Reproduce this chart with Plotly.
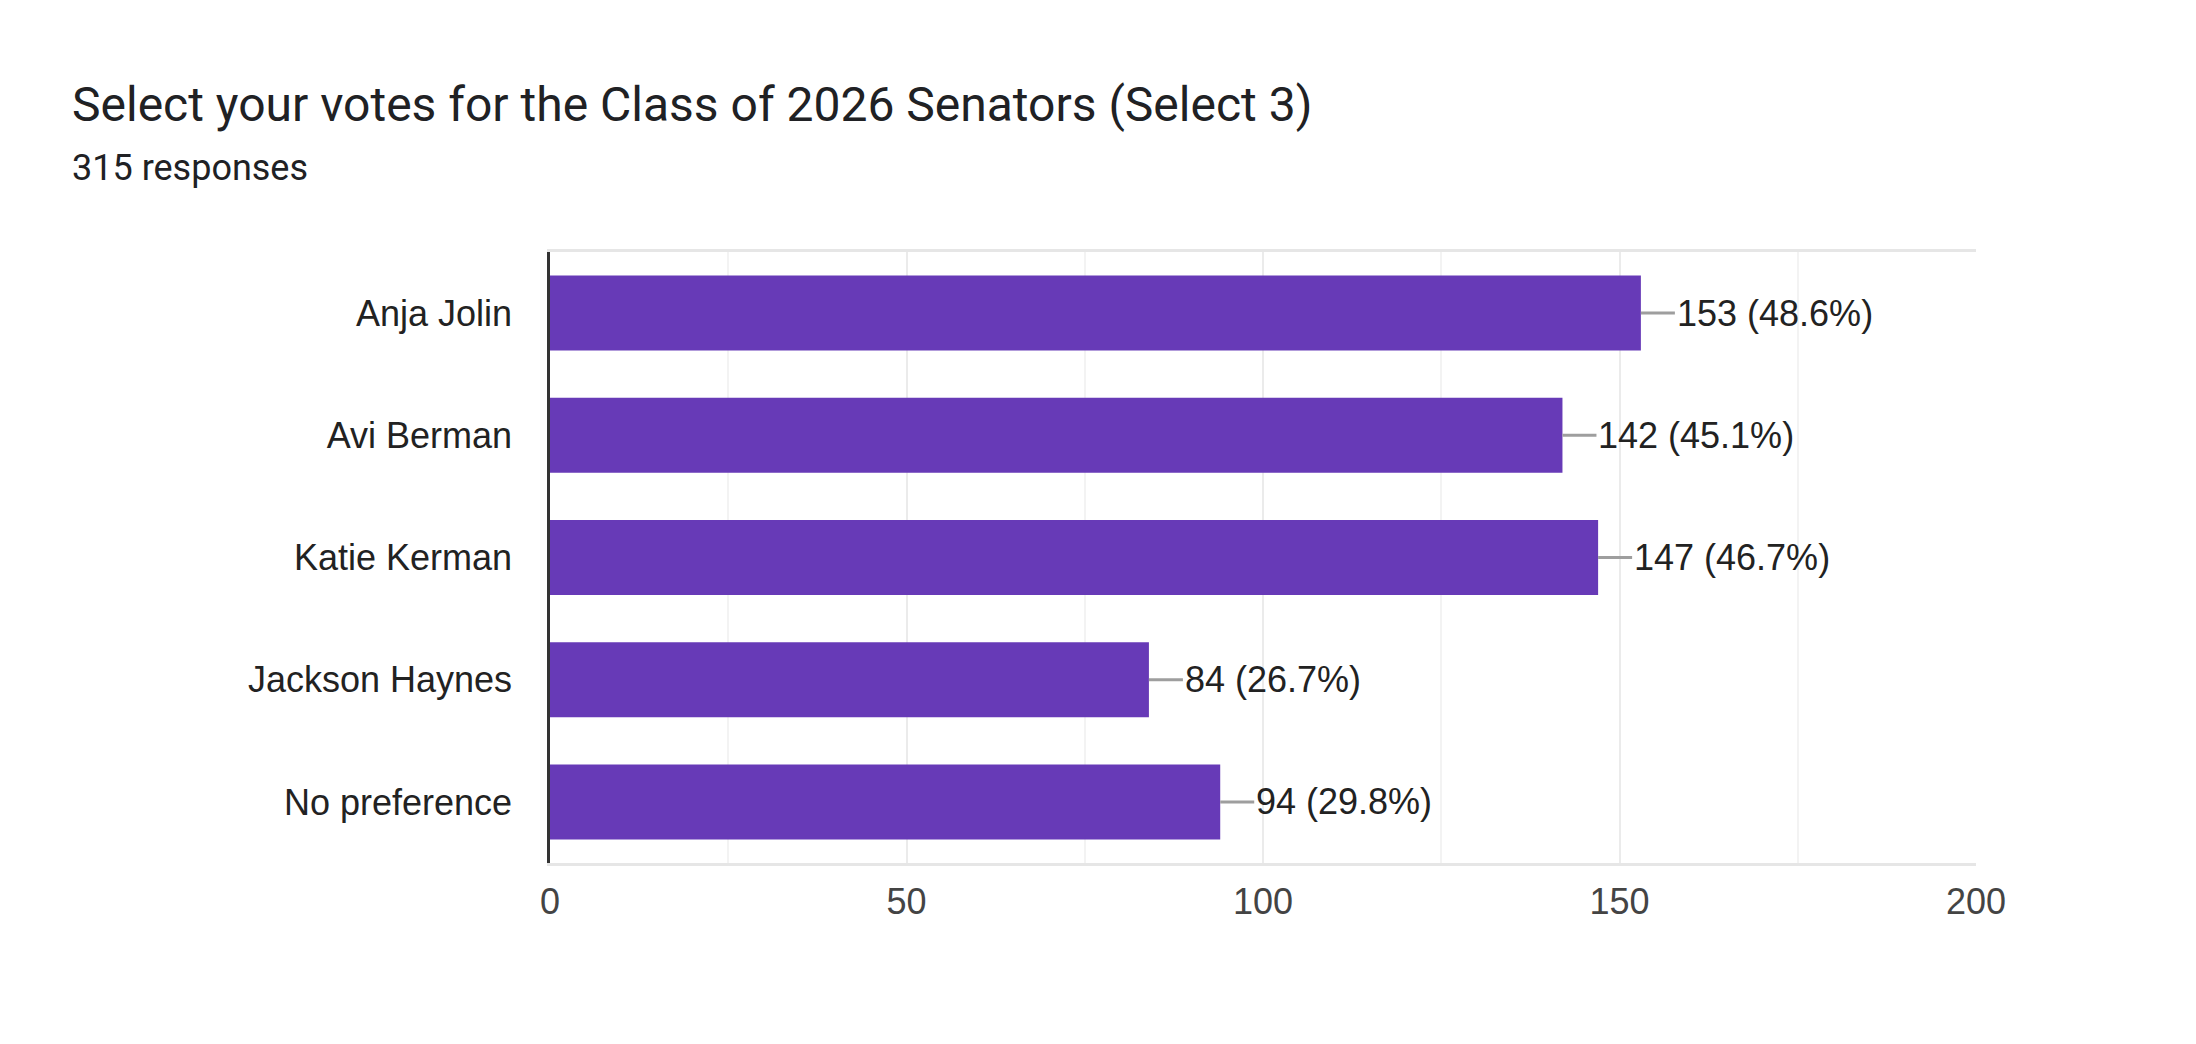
import plotly.graph_objects as go

title_text = "Select your votes for the Class of 2026 Senators (Select 3)"
total_responses = 315
candidates = ["Anja Jolin", "Avi Berman", "Katie Kerman", "Jackson Haynes", "No preference"]
votes = [153, 142, 147, 84, 94]
x_ticks = [0, 50, 100, 150, 200]

# page body has an 8px margin, so figure coords = page coords - 8
W, H = 2180, 1028
L, T = 542, 244
R, B = W - 1968, H - 855
PW, PH = W - L - R, H - T - B

bar_color = "#673ab7"
chart_font = "Liberation Sans, Arial, sans-serif"

fig = go.Figure()
fig.add_trace(go.Bar(
    x=votes, y=candidates, orientation="h",
    marker=dict(color=bar_color, line=dict(width=0)),
    hoverinfo="skip",
))

annotations = []
for name, v in zip(candidates, votes):
    pct = v / total_responses * 100
    annotations.append(dict(
        x=v, y=name, xref="x", yref="y",
        text=f"{v} ({pct:.1f}%)",
        showarrow=True, arrowhead=0, arrowwidth=3, arrowcolor="#9e9e9e",
        ax=34, ay=0, xanchor="left", yanchor="middle",
        borderpad=1,
        font=dict(family=chart_font, size=36, color="#222222"),
    ))

# Title and subtitle
annotations.append(dict(
    text=title_text, xref="paper", yref="paper",
    x=(62 - L) / PW, y=(H - B - 97) / PH,
    xanchor="left", yanchor="middle", showarrow=False,
    font=dict(family="Roboto, sans-serif", size=48, color="#202124"),
))
annotations.append(dict(
    text=f"{total_responses} responses", xref="paper", yref="paper",
    x=(62 - L) / PW, y=(H - B - 160) / PH,
    xanchor="left", yanchor="middle", showarrow=False,
    font=dict(family="Roboto, sans-serif", size=36, color="#202124"),
))

fig.update_layout(
    width=W, height=H,
    margin=dict(l=L, r=R, t=T, b=B, autoexpand=False),
    paper_bgcolor="white", plot_bgcolor="white",
    showlegend=False,
    bargap=0.386,
    annotations=annotations,
    xaxis=dict(
        range=[0, 200], tickvals=x_ticks, ticktext=[str(t) for t in x_ticks],
        showgrid=True, gridcolor="#ebebeb", gridwidth=2,
        minor=dict(dtick=25, tick0=0, showgrid=True, gridcolor="#f3f3f3", gridwidth=2),
        showline=True, linecolor="#e6e6e6", linewidth=3, mirror=True,
        zeroline=False, ticks="", ticklabelstandoff=5,
        tickfont=dict(family=chart_font, size=36, color="#444444"),
    ),
    yaxis=dict(
        categoryorder="array", categoryarray=candidates,
        range=[len(candidates) - 0.5, -0.5],
        showgrid=False, zeroline=False,
        showline=True, linecolor="#333333", linewidth=2.5,
        ticks="", ticklabelstandoff=28,
        tickfont=dict(family=chart_font, size=36, color="#222222"),
    ),
)

fig.write_html("out.html")
